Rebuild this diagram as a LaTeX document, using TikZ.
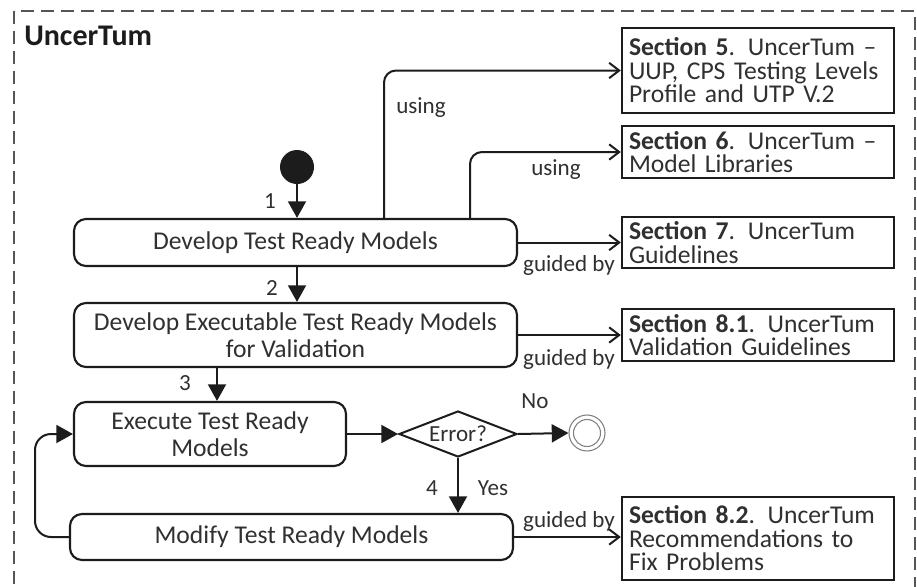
\documentclass[tikz,border=0pt]{standalone}
\usepackage{fontspec}
\setmainfont{Carlito}
\usetikzlibrary{arrows.meta,shapes.geometric}
% one drawing unit = 0.75pt
\newcommand{\pxu}{0.75pt}
\definecolor{ink}{HTML}{1C1C1C}
\definecolor{txt}{HTML}{303030}
\definecolor{frame}{HTML}{555555}

\tikzset{
  boxtext/.style={font=\fontsize{19.2pt}{19.8pt}\selectfont, text=txt},
  act/.style={boxtext, draw=ink, line width=1.6pt, rounded corners=9pt,
    align=center, inner sep=0pt},
  sect/.style={draw=ink, line width=1.8pt, align=left, text=txt,
    text width=258*\pxu, inner xsep=7*\pxu, inner ysep=0pt,
    font=\fontsize{19.2pt}{17.6pt}\selectfont},
  flow/.style={draw=ink, line width=1.5pt, -{Triangle[length=12.5pt,width=13.5pt]}},
  refline/.style={draw=ink, line width=1.5pt, rounded corners=9pt,
    -{Straight Barb[length=7.5pt,width=11.5pt]}},
  lbl/.style={font=\fontsize{17.3pt}{18pt}\selectfont, text=txt, inner sep=0pt, anchor=base},
}

\begin{document}
\begin{tikzpicture}[x=0.75pt,y=-0.75pt]
\useasboundingbox (0,0) rectangle (917,586);
\fill[white] (0,0) rectangle (917,586);

% package frame
\draw[frame, line width=1.5pt, dash pattern=on 9.5pt off 5.5pt] (14,11) rectangle (915,640);
\node[font=\fontsize{22.5pt}{24pt}\bfseries\selectfont, text=ink, anchor=base west, inner sep=0pt]
  (title) at (24,45) {UncerTum};

% activities
\node[circle, fill=ink, minimum size=34*\pxu, inner sep=0pt] (start) at (297,167) {};
\node[act, minimum width=443*\pxu, minimum height=47*\pxu] (b1) at (295.5,242.5)
  {Develop Test Ready Models};
\node[act, minimum width=443*\pxu, minimum height=64*\pxu] (b2) at (295.5,335)
  {Develop Executable Test Ready Models\\for Validation};
\node[act, minimum width=272*\pxu, minimum height=64*\pxu] (b3) at (210,434)
  {Execute Test Ready\\Models};
\node[act, minimum width=443*\pxu, minimum height=46*\pxu] (b4) at (291.5,537)
  {Modify Test Ready Models};
\node[diamond, aspect=2.565, draw=ink, line width=1.5pt, minimum width=118*\pxu,
  minimum height=46*\pxu, inner sep=0pt, font=\fontsize{17.3pt}{18pt}\selectfont, text=txt]
  (d) at (458,434) {Error?};
\node[circle, draw=gray, line width=0.8pt, minimum size=36*\pxu, inner sep=0pt] (fin) at (587,433) {};
\draw[gray, line width=0.8pt] (fin.center) circle[radius=13.5*\pxu];

% referenced sections
\node[sect, minimum height=85*\pxu] (s5) at (758,70.5)
  {\textbf{Section 5}. UncerTum –\\UUP, CPS Testing Levels\\Profile and UTP V.2};
\node[sect, minimum height=52*\pxu] (s6) at (758,152)
  {\textbf{Section 6}. UncerTum –\\Model Libraries};
\node[sect, minimum height=51*\pxu] (s7) at (758,242.5)
  {\textbf{Section 7}. UncerTum\\Guidelines};
\node[sect, minimum height=52*\pxu] (s81) at (758,335)
  {\textbf{Section 8.1}. UncerTum\\Validation Guidelines};
\node[sect, minimum height=83*\pxu] (s82) at (758,538.5)
  {\textbf{Section 8.2}. UncerTum\\Recommendations to\\Fix Problems};

% helper columns
\coordinate (x3) at (217,0);
\coordinate (u1) at (384,0);
\coordinate (u2) at (470,0);
\coordinate (loopx) at (35,0);

% control flow
\draw[flow] (start) -- (start |- b1.north);
\draw[flow] (b1.south -| start) -- (b2.north -| start);
\draw[flow] (b2.south -| x3) -- (b3.north -| x3);
\draw[flow] (b3.east) -- (d.west);
\draw[flow] (d.east) -- (fin.west);
\draw[flow] (d.south) -- (d.south |- b4.north);
\draw[flow, rounded corners=12pt] (b4.west) -- (b4.west -| loopx) |- (b3.west);

% references
\draw[refline] (b1.north -| u1) |- (s5.west);
\draw[refline] (b1.north -| u2) |- (s6.west);
\draw[refline] (b1.east) -- (s7.west);
\draw[refline] (b2.east) -- (s81.west);
\draw[refline] (b4.east) -- (b4.east -| s82.west);

% labels
\node[lbl] (l1) at (270,208) {1};
\node[lbl] (l2) at (272,295) {2};
\node[lbl] (l3) at (185,390) {3};
\node[lbl] (l4) at (432,495) {4};
\node[lbl] (lyes) at (493,495) {Yes};
\node[lbl] (lno) at (535,408) {No};
\node[lbl] (lu1) at (421,113) {using};
\node[lbl] (lu2) at (556,175) {using};
\node[lbl] (lg1) at (569,271) {guided by};
\node[lbl] (lg2) at (569,365) {guided by};
\node[lbl] (lg3) at (569,527) {guided by};
\end{tikzpicture}
\end{document}
